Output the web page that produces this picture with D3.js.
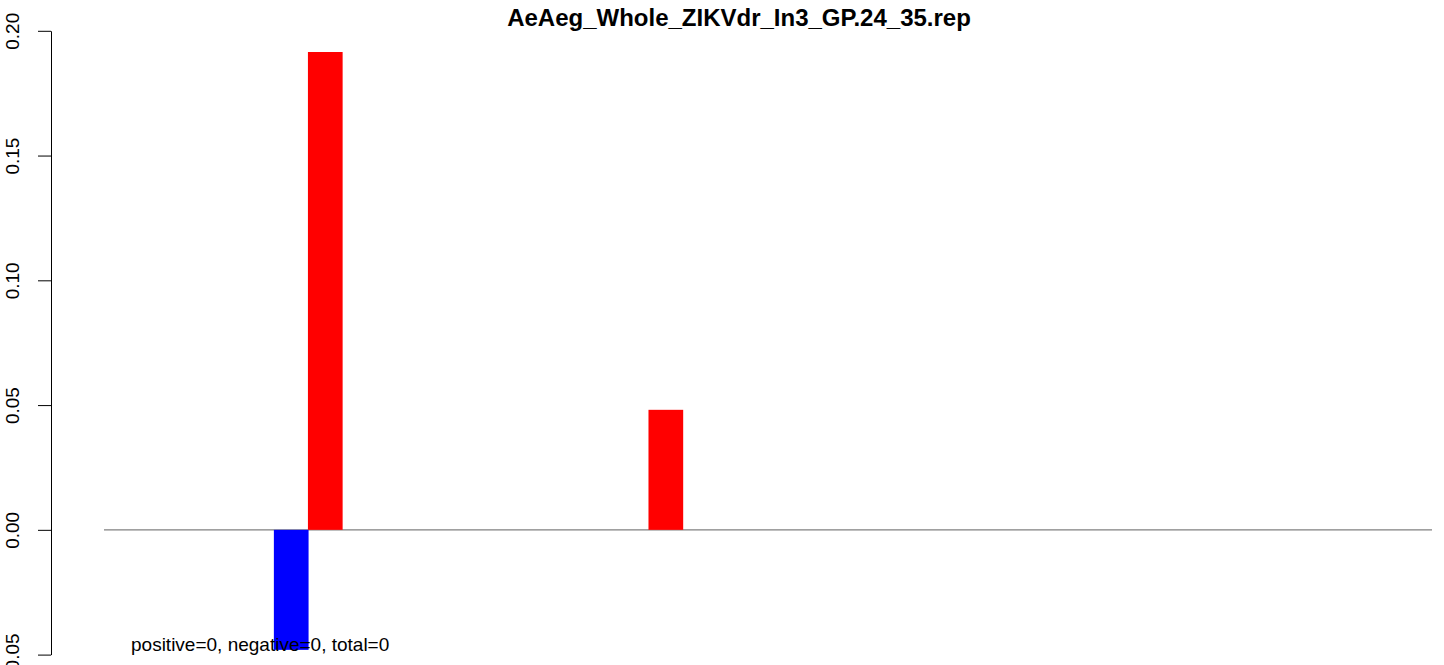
<!DOCTYPE html>
<html>
<head>
<meta charset="utf-8">
<script src="https://cdn.jsdelivr.net/npm/d3@7"></script>
<style>
  html, body { margin: 0; padding: 0; background: #fff; }
  svg text { font-family: "Liberation Sans", Arial, Helvetica, sans-serif; }
</style>
</head>
<body>
<svg id="chart" width="1444" height="665"></svg>
<script>
// ---- data ----
const title = "AeAeg_Whole_ZIKVdr_In3_GP.24_35.rep";
const footer = "positive=0, negative=0, total=0";
const xDomain = [1, 37];
const negativeX = [5];
const negativeY = [-0.0481];
const positiveX = [6, 16];
const positiveY = [0.1915, 0.0481];
const yTicks = [-0.05, 0.00, 0.05, 0.10, 0.15, 0.20];

// ---- layout ----
const svg = d3.select("#chart");
const plotLeft = 104, plotRight = 1432;
const x = d3.scaleLinear().domain(xDomain).range([155, 1381]);
const y = d3.scaleLinear().domain([-0.05, 0.20]).range([654.6, 30.8]);
const barW = 34.7;

// zero line
svg.append("line")
  .attr("x1", plotLeft).attr("x2", plotRight)
  .attr("y1", y(0)).attr("y2", y(0))
  .attr("stroke", "#808080").attr("stroke-width", 1.3);

// negative bars (blue)
svg.append("g").selectAll("rect")
  .data(negativeX.map((d, i) => ({x: d, v: negativeY[i]})))
  .join("rect")
  .attr("x", d => x(d.x) - barW / 2)
  .attr("width", barW)
  .attr("y", d => Math.min(y(0), y(d.v)))
  .attr("height", d => Math.abs(y(d.v) - y(0)))
  .attr("fill", "#0000ff");

// positive bars (red)
svg.append("g").selectAll("rect")
  .data(positiveX.map((d, i) => ({x: d, v: positiveY[i]})))
  .join("rect")
  .attr("x", d => x(d.x) - barW / 2)
  .attr("width", barW)
  .attr("y", d => Math.min(y(0), y(d.v)))
  .attr("height", d => Math.abs(y(d.v) - y(0)))
  .attr("fill", "#ff0000");

// y axis
const yAxis = d3.axisLeft(y)
  .tickValues(yTicks)
  .tickSize(13)
  .tickSizeOuter(0)
  .tickFormat(d => d3.format(".2f")(d).replace("\u2212", "-"));
const ga = svg.append("g").attr("transform", "translate(51,0)").call(yAxis);
ga.select(".domain").attr("stroke", "#000").attr("stroke-width", 1);
ga.selectAll(".tick line").attr("stroke", "#000").attr("stroke-width", 1);
ga.selectAll(".tick text")
  .attr("x", null).attr("dy", null)
  .attr("text-anchor", "middle")
  .attr("transform", "translate(-32.5,0) rotate(-90)")
  .attr("font-size", 19)
  .attr("fill", "#000");

// title
svg.append("text")
  .attr("x", 739).attr("y", 26)
  .attr("text-anchor", "middle")
  .attr("font-weight", "bold")
  .attr("font-size", 24)
  .attr("fill", "#000")
  .text(title);

// footer
svg.append("text")
  .attr("x", 131).attr("y", 651)
  .attr("font-size", 19)
  .attr("fill", "#000")
  .text(footer);
</script>
</body>
</html>
